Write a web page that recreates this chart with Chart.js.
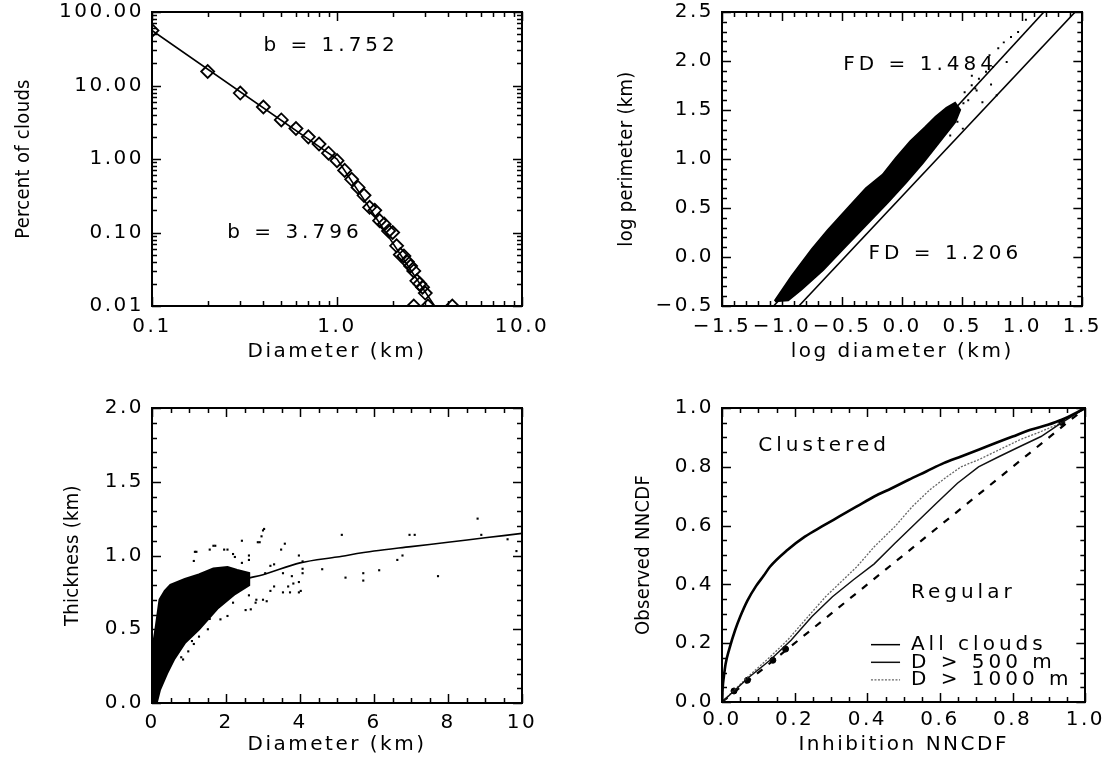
<!DOCTYPE html>
<html><head><meta charset="utf-8">
<script src="https://cdn.jsdelivr.net/npm/chart.js@4.4.1/dist/chart.umd.min.js"></script>
<style>
html,body{margin:0;padding:0;background:#fff;}
body{width:1111px;height:757px;position:relative;overflow:hidden;}
canvas{position:absolute;}
</style></head><body>
<canvas id="c1" width="580" height="400" style="left:0px;top:-20px;width:580px;height:400px"></canvas>
<canvas id="c2" width="551" height="400" style="left:560px;top:-20px;width:551px;height:400px"></canvas>
<canvas id="c3" width="580" height="387" style="left:0px;top:370px;width:580px;height:387px"></canvas>
<canvas id="c4" width="551" height="387" style="left:560px;top:370px;width:551px;height:387px"></canvas>
<script>
// ---------------- DATA ----------------
// Panel 1: size distribution (log-log)
const p1BinX = [0.1,0.2,0.3,0.4,0.5,0.6,0.7,0.8,0.9,1.0,1.1,1.2,1.3,1.4,1.5,1.6,1.7,1.8,1.9,2.0,2.1,2.2,2.3,2.4,2.5,2.6,2.7,2.8,2.9,3.0,2.6,3.1,4.2];
const p1BinY = [56,15.5,7.9,5.1,3.4,2.6,2.0,1.6,1.2,0.95,0.70,0.53,0.41,0.32,0.22,0.20,0.145,0.13,0.105,0.10,0.066,0.05,0.048,0.04,0.035,0.03,0.022,0.02,0.018,0.015,0.01,0.01,0.01];
const p1FitX = [0.1, 1.0, 3.37];
const p1FitY = [56, 1.0, 0.01];
const p1XMajors = [0.1, 1, 10];
const p1XTickLabels = ['0.1','1.0','10.0'];
const p1YMajors = [0.01, 0.1, 1, 10, 100];
const p1YTickLabels = ['0.01','0.10','1.00','10.00','100.00'];

// Panel 2: log perimeter vs log diameter
const p2LineAX = [-1.07, 1.18];
const p2LineAY = [-0.5, 2.5];
const p2LineBX = [-0.86, 1.44];
const p2LineBY = [-0.5, 2.5];
const p2CloudX = [-1.06,-0.92,-0.75,-0.62,-0.45,-0.30,-0.16,-0.05,0.07,0.19,0.28,0.37,0.44,0.48,0.44,0.37,0.28,0.17,0.03,-0.12,-0.30,-0.48,-0.66,-0.84,-0.95,-1.06];
const p2CloudY = [-0.45,-0.20,0.08,0.27,0.50,0.70,0.84,1.01,1.18,1.32,1.43,1.52,1.57,1.50,1.38,1.27,1.13,0.96,0.76,0.56,0.33,0.10,-0.13,-0.33,-0.44,-0.45];
const p2DotX = [0.846,0.727,0.609,0.52,0.668,0.787,0.906,0.965,0.579,0.46,0.505,0.40,0.698,0.757,0.639,0.80,0.43,0.55,0.62,0.87,1.03,0.51,0.74,0.58];
const p2DotY = [2.19,2.06,1.72,1.68,1.58,1.65,2.245,2.296,1.752,1.38,1.31,1.24,1.89,1.94,1.82,2.13,1.48,1.60,1.70,1.99,2.42,1.57,1.76,1.85];
const p2XMajors = [-1.5,-1.0,-0.5,0,0.5,1.0,1.5];
const p2XTickLabels = ['\u22121.5','\u22121.0','\u22120.5','0.0','0.5','1.0','1.5'];
const p2YMajors = [-0.5,0,0.5,1.0,1.5,2.0,2.5];
const p2YTickLabels = ['\u22120.5','0.0','0.5','1.0','1.5','2.0','2.5'];

// Panel 3: thickness vs diameter
const p3CloudX = [0,0,0.1,0.21,0.35,0.5,0.89,1.27,1.66,2.04,2.3,2.62,2.62,2.24,1.76,1.27,0.89,0.6,0.4,0.21,0.12,0];
const p3CloudY = [0,0.34,0.5,0.70,0.76,0.80,0.84,0.87,0.91,0.92,0.90,0.88,0.80,0.74,0.64,0.50,0.41,0.30,0.20,0.09,0,0];
const p3DotX = [1.2,1.13,1.66,1.95,2.43,2.86,3.0,3.59,3.97,4.07,4.6,5.13,5.23,5.71,5.71,6.14,6.63,6.77,6.96,7.1,7.73,8.8,8.9,9.61,9.85,3.54,3.2,3.97,3.68,3.82,3.3,2.8,2.53,3.1,2.62,1.56,1.08,0.79,2.24,2.62,3.54,4.07,
  1.16,1.56,1.71,2.04,2.19,2.43,2.62,2.96,3.03,2.91,3.49,3.2,3.06,3.3,2.82,2.67,3.0,2.19,2.04,1.85,1.51,1.27,1.13,0.84,0.98,3.78,3.97,4.07,3.73,4.02];
const p3DotY = [1.025,0.963,1.066,1.04,1.10,1.09,1.17,1.08,1.0,0.96,0.907,1.14,0.85,0.88,0.83,0.90,0.97,1.0,1.14,1.14,0.86,1.25,1.14,1.11,1.03,0.75,0.76,0.75,0.79,0.81,0.94,0.68,0.63,0.69,0.73,0.57,0.42,0.31,0.99,0.97,0.88,0.88,
  1.025,1.04,1.066,1.04,1.01,0.95,1.0,1.13,1.18,1.09,1.04,0.93,0.88,0.79,0.70,0.635,0.70,0.68,0.59,0.567,0.50,0.45,0.40,0.295,0.35,0.86,0.82,0.91,0.75,0.76];
const p3FitX = [0.5,1,1.5,2,2.5,3,4,5,6,7,8,9,10];
const p3FitY = [0.58,0.68,0.74,0.80,0.84,0.87,0.95,0.99,1.03,1.06,1.09,1.12,1.15];
const p3XMajors = [0,2,4,6,8,10];
const p3XTickLabels = ['0','2','4','6','8','10'];
const p3YMajors = [0,0.5,1.0,1.5,2.0];
const p3YTickLabels = ['0.0','0.5','1.0','1.5','2.0'];

// Panel 4: NNCDF
const p4AllX = [0,0.002,0.005,0.01,0.02,0.036,0.05,0.07,0.094,0.115,0.132,0.18,0.228,0.275,0.323,0.371,0.419,0.467,0.514,0.562,0.61,0.658,0.706,0.753,0.80,0.849,0.897,0.935,1.0];
const p4AllY = [0,0.05,0.085,0.13,0.18,0.244,0.29,0.345,0.395,0.43,0.46,0.517,0.5625,0.597,0.631,0.665,0.699,0.727,0.756,0.784,0.8125,0.835,0.858,0.881,0.903,0.926,0.943,0.96,1.0];
const p4D500X = [0,0.075,0.132,0.19,0.247,0.304,0.361,0.419,0.476,0.533,0.59,0.648,0.706,0.763,0.82,0.878,0.935,1.0];
const p4D500Y = [0,0.085,0.142,0.21,0.29,0.358,0.415,0.47,0.54,0.608,0.676,0.744,0.80,0.835,0.869,0.903,0.95,1.0];
const p4D1000X = [0,0.075,0.132,0.18,0.228,0.285,0.323,0.371,0.419,0.476,0.524,0.572,0.62,0.658,0.706,0.763,0.82,0.878,0.935,1.0];
const p4D1000Y = [0,0.09,0.153,0.21,0.278,0.358,0.403,0.46,0.528,0.597,0.665,0.722,0.767,0.80,0.824,0.858,0.892,0.92,0.95,1.0];
const p4DiagX = [0, 1];
const p4DiagY = [0, 1];
const p4MarkX = [0.033,0.07,0.14,0.175,0.935];
const p4MarkY = [0.0375,0.074,0.142,0.18,0.951];
const p4Majors = [0,0.2,0.4,0.6,0.8,1.0];
const p4TickLabels = ['0.0','0.2','0.4','0.6','0.8','1.0'];

// ---------------- HELPERS ----------------
const zip = (xs, ys) => xs.map((x, i) => ({x: x, y: ys[i]}));
const TICKF = {family: "'DejaVu Sans', sans-serif", size: 20};
const WIDEF = {family: "'DejaVu Sans', sans-serif", size: 20};
const NARROWF = {family: "'Liberation Sans Narrow', 'DejaVu Sans Condensed', sans-serif", size: 20};

function near(v, m) { return Math.abs(v - m) <= 1e-6 * Math.max(Math.abs(m), 1e-3); }
function linTicks(min, max, step) {
  const t = []; const n = Math.round((max - min) / step);
  for (let i = 0; i <= n; i++) t.push({value: +(min + i * step).toFixed(6)});
  return t;
}
function logTicks(min, max) {
  const t = [];
  for (let e = Math.round(Math.log10(min)); e < Math.round(Math.log10(max)); e++)
    for (let s = 1; s < 10; s++) t.push({value: +(s * Math.pow(10, e)).toPrecision(6)});
  t.push({value: max});
  return t;
}
function mkScale(o) {
  const isLog = o.type === 'logarithmic';
  return {
    type: o.type, position: o.pos, min: o.min, max: o.max,
    afterBuildTicks: s => { s.ticks = isLog ? logTicks(o.min, o.max) : linTicks(o.min, o.max, o.minor); },
    afterFit: s => { if (s.isHorizontal()) s.height = o.size; else s.width = o.size; },
    ticks: {
      display: !!o.labels, autoSkip: false, maxRotation: 0, minRotation: 0,
      padding: o.tickPad || 0, font: TICKF, color: '#000',
      callback: v => {
        if (!o.labels) return '';
        const i = o.majors.findIndex(m => near(v, m));
        return i >= 0 ? o.labels[i] : '';
      }
    },
    grid: {display: false, drawOnChartArea: false, drawTicks: false},
    border: {display: true, color: '#000', width: 2},
    title: o.title ? {display: true, text: o.title, font: o.titleFont, color: '#000', padding: o.titlePad} : {display: false}
  };
}
// wide letter spacing for IDL-like text; rotated (vertical) titles stay tight
const lsPlugin = {
  id: 'ls',
  beforeUpdate(c) {
    const ctx = c.ctx;
    ctx.letterSpacing = '2.5px';
    if (!ctx.__wrapped) {
      const orig = ctx.fillText;
      ctx.fillText = function (text, x, y, mw) {
        const t = this.getTransform();
        if (Math.abs(t.b) > 0.5) {
          const prev = this.letterSpacing;
          this.letterSpacing = '0.3px';
          orig.call(this, text, x, y);
          this.letterSpacing = prev;
        } else if (mw === undefined) {
          orig.call(this, text, x, y);
        } else {
          orig.call(this, text, x, y, mw);
        }
      };
      ctx.__wrapped = true;
    }
  },
  beforeLayout(c) { c.ctx.letterSpacing = '2.5px'; },
  beforeDraw(c) { c.ctx.letterSpacing = '2.5px'; }
};
// inward IDL-style tick marks on all four sides, taken from the scales' own ticks
const tickPlugin = {
  id: 'idlticks',
  afterDraw(chart, args, opts) {
    const ctx = chart.ctx, a = chart.chartArea;
    ctx.save();
    ctx.strokeStyle = '#000';
    ctx.lineWidth = 1.5;
    ctx.setLineDash([]);
    ['x', 'y'].forEach(id => {
      const s = chart.scales[id];
      const majors = (opts.majors || {})[id] || [];
      s.ticks.forEach(t => {
        const L = majors.some(m => near(t.value, m)) ? 9 : 5;
        const p = Math.round(s.getPixelForValue(t.value)) + 0.5;
        ctx.beginPath();
        if (id === 'x') {
          ctx.moveTo(p, a.bottom); ctx.lineTo(p, a.bottom - L);
          ctx.moveTo(p, a.top); ctx.lineTo(p, a.top + L);
        } else {
          ctx.moveTo(a.left, p); ctx.lineTo(a.left + L, p);
          ctx.moveTo(a.right, p); ctx.lineTo(a.right - L, p);
        }
        ctx.stroke();
      });
    });
    ctx.restore();
  }
};
const annotPlugin = {
  id: 'annot',
  afterDatasetsDraw(chart, args, opts) {
    const ctx = chart.ctx, xs = chart.scales.x, ys = chart.scales.y;
    ctx.save();
    ctx.letterSpacing = '4px';
    ctx.font = '20px "DejaVu Sans"';
    ctx.fillStyle = '#000';
    ctx.textBaseline = 'middle';
    ctx.textAlign = 'left';
    (opts.items || []).forEach(a => ctx.fillText(a.text, xs.getPixelForValue(a.x), ys.getPixelForValue(a.y)));
    (opts.legend || []).forEach(l => {
      const ds = chart.data.datasets[l.ds];
      const y = ys.getPixelForValue(l.y);
      ctx.save();
      ctx.beginPath();
      ctx.setLineDash(ds.borderDash || []);
      ctx.lineWidth = l.w || ds.borderWidth;
      ctx.strokeStyle = ds.borderColor;
      ctx.moveTo(xs.getPixelForValue(l.x0), y);
      ctx.lineTo(xs.getPixelForValue(l.x1), y);
      ctx.stroke();
      ctx.restore();
      ctx.fillText(ds.label, xs.getPixelForValue(l.xt), y);
    });
    ctx.restore();
  }
};
function mkChart(id, cfg) {
  return new Chart(document.getElementById(id), {
    type: 'scatter',
    data: {datasets: cfg.datasets},
    options: {
      responsive: false, animation: false, events: [],
      layout: {padding: cfg.padding},
      elements: {line: {tension: 0}},
      scales: cfg.scales,
      plugins: {legend: {display: false}, tooltip: {enabled: false}, annot: cfg.annot || {}, idlticks: {majors: cfg.majors}}
    },
    plugins: [lsPlugin, tickPlugin, annotPlugin]
  });
}

// ---------------- PANEL 1 ----------------
mkChart('c1', {
  padding: {top: 32, right: 58, bottom: 0, left: 0},
  majors: {x: p1XMajors, y: p1YMajors},
  scales: {
    x: mkScale({type: 'logarithmic', pos: 'bottom', min: 0.1, max: 10, majors: p1XMajors, labels: p1XTickLabels, size: 74, tickPad: 9,
      title: 'Diameter (km)', titleFont: WIDEF, titlePad: {top: 0, bottom: 16}}),
    x2: mkScale({type: 'logarithmic', pos: 'top', min: 0.1, max: 10, majors: p1XMajors, size: 0}),
    y: mkScale({type: 'logarithmic', pos: 'left', min: 0.01, max: 100, majors: p1YMajors, labels: p1YTickLabels, size: 152, tickPad: 8,
      title: 'Percent of clouds', titleFont: NARROWF, titlePad: {top: 12, bottom: 0}}),
    y2: mkScale({type: 'logarithmic', pos: 'right', min: 0.01, max: 100, majors: p1YMajors, size: 0})
  },
  datasets: [
    {label: 'fit', data: zip(p1FitX, p1FitY), showLine: true, pointRadius: 0, borderColor: '#000', borderWidth: 1.6},
    {label: 'bins', data: zip(p1BinX, p1BinY), pointStyle: 'rectRot', pointRadius: 6.5, borderWidth: 1.8,
      borderColor: '#000', backgroundColor: 'rgba(255,255,255,0)', clip: 0}
  ],
  annot: {items: [{text: 'b = 1.752', x: 0.4, y: 35}, {text: 'b = 3.796', x: 0.255, y: 0.1}]}
});

// ---------------- PANEL 2 ----------------
mkChart('c2', {
  padding: {top: 32, right: 24, bottom: 0, left: 0},
  majors: {x: p2XMajors, y: p2YMajors},
  scales: {
    x: mkScale({type: 'linear', pos: 'bottom', min: -1.5, max: 1.5, minor: 0.1, majors: p2XMajors, labels: p2XTickLabels, size: 74, tickPad: 9,
      title: 'log diameter (km)', titleFont: WIDEF, titlePad: {top: 0, bottom: 16}}),
    x2: mkScale({type: 'linear', pos: 'top', min: -1.5, max: 1.5, minor: 0.1, majors: p2XMajors, size: 0}),
    y: mkScale({type: 'linear', pos: 'left', min: -0.5, max: 2.5, minor: 0.1, majors: p2YMajors, labels: p2YTickLabels, size: 162, tickPad: 8,
      title: 'log perimeter (km)', titleFont: NARROWF, titlePad: {top: 55, bottom: 0}}),
    y2: mkScale({type: 'linear', pos: 'right', min: -0.5, max: 2.5, minor: 0.1, majors: p2YMajors, size: 0})
  },
  datasets: [
    {label: 'cloud', data: zip(p2CloudX, p2CloudY), showLine: true, fill: 'shape', pointRadius: 0,
      borderColor: '#000', backgroundColor: '#000', borderWidth: 2.5},
    {label: 'dots', data: zip(p2DotX, p2DotY), pointStyle: 'rect', pointRadius: 1.4, borderWidth: 0, backgroundColor: '#000', borderColor: '#000'},
    {label: 'FD = 1.484', data: zip(p2LineAX, p2LineAY), showLine: true, pointRadius: 0, borderColor: '#000', borderWidth: 1.6},
    {label: 'FD = 1.206', data: zip(p2LineBX, p2LineBY), showLine: true, pointRadius: 0, borderColor: '#000', borderWidth: 1.6}
  ],
  annot: {items: [{text: 'FD = 1.484', x: -0.49, y: 1.96}, {text: 'FD = 1.206', x: -0.28, y: 0.03}]}
});

// ---------------- PANEL 3 ----------------
mkChart('c3', {
  padding: {top: 38, right: 58, bottom: 0, left: 0},
  majors: {x: p3XMajors, y: p3YMajors},
  scales: {
    x: mkScale({type: 'linear', pos: 'bottom', min: 0, max: 10, minor: 0.5, majors: p3XMajors, labels: p3XTickLabels, size: 54, tickPad: 8,
      title: 'Diameter (km)', titleFont: WIDEF, titlePad: {top: 0, bottom: 0}}),
    x2: mkScale({type: 'linear', pos: 'top', min: 0, max: 10, minor: 0.5, majors: p3XMajors, size: 0}),
    y: mkScale({type: 'linear', pos: 'left', min: 0, max: 2, minor: 0.1, majors: p3YMajors, labels: p3YTickLabels, size: 152, tickPad: 8,
      title: 'Thickness (km)', titleFont: NARROWF, titlePad: {top: 61, bottom: 0}}),
    y2: mkScale({type: 'linear', pos: 'right', min: 0, max: 2, minor: 0.1, majors: p3YMajors, size: 0})
  },
  datasets: [
    {label: 'cloud', data: zip(p3CloudX, p3CloudY), showLine: true, fill: 'shape', pointRadius: 0,
      borderColor: '#000', backgroundColor: '#000', borderWidth: 2.5},
    {label: 'dots', data: zip(p3DotX, p3DotY), pointStyle: 'rect', pointRadius: 1.5, borderWidth: 0, backgroundColor: '#000', borderColor: '#000'},
    {label: 'fit', data: zip(p3FitX, p3FitY), showLine: true, pointRadius: 0, borderColor: '#000', borderWidth: 1.6, cubicInterpolationMode: 'monotone'}
  ]
});

// ---------------- PANEL 4 ----------------
mkChart('c4', {
  padding: {top: 38, right: 24, bottom: 0, left: 0},
  majors: {x: p4Majors, y: p4Majors},
  scales: {
    x: mkScale({type: 'linear', pos: 'bottom', min: 0, max: 1, minor: 0.05, majors: p4Majors, labels: p4TickLabels, size: 55, tickPad: 6,
      title: 'Inhibition NNCDF', titleFont: WIDEF, titlePad: {top: 0, bottom: 0}}),
    x2: mkScale({type: 'linear', pos: 'top', min: 0, max: 1, minor: 0.05, majors: p4Majors, size: 0}),
    y: mkScale({type: 'linear', pos: 'left', min: 0, max: 1, minor: 0.05, majors: p4Majors, labels: p4TickLabels, size: 162, tickPad: 8,
      title: 'Observed NNCDF', titleFont: NARROWF, titlePad: {top: 72, bottom: 0}}),
    y2: mkScale({type: 'linear', pos: 'right', min: 0, max: 1, minor: 0.05, majors: p4Majors, size: 0})
  },
  datasets: [
    {label: 'All clouds', data: zip(p4AllX, p4AllY), showLine: true, pointRadius: 0, borderColor: '#000', borderWidth: 2.6, cubicInterpolationMode: 'monotone'},
    {label: 'D > 500 m', data: zip(p4D500X, p4D500Y), showLine: true, pointRadius: 0, borderColor: '#111', borderWidth: 1.5},
    {label: 'D > 1000 m', data: zip(p4D1000X, p4D1000Y), showLine: true, pointRadius: 0, borderColor: '#666', borderWidth: 1.3, borderDash: [2, 1.5]},
    {label: 'random', data: zip(p4DiagX, p4DiagY), showLine: true, pointRadius: 0, borderColor: '#000', borderWidth: 2.2, borderDash: [7, 8]},
    {label: 'marks', data: zip(p4MarkX, p4MarkY), pointStyle: 'circle', pointRadius: 3, backgroundColor: '#000', borderColor: '#000'}
  ],
  annot: {
    items: [{text: 'Clustered', x: 0.10, y: 0.87}, {text: 'Regular', x: 0.52, y: 0.37}],
    legend: [{ds: 0, x0: 0.41, x1: 0.49, xt: 0.52, y: 0.195, w: 1.5}, {ds: 1, x0: 0.41, x1: 0.49, xt: 0.52, y: 0.135}, {ds: 2, x0: 0.41, x1: 0.49, xt: 0.52, y: 0.075}]
  }
});
</script>
</body></html>
